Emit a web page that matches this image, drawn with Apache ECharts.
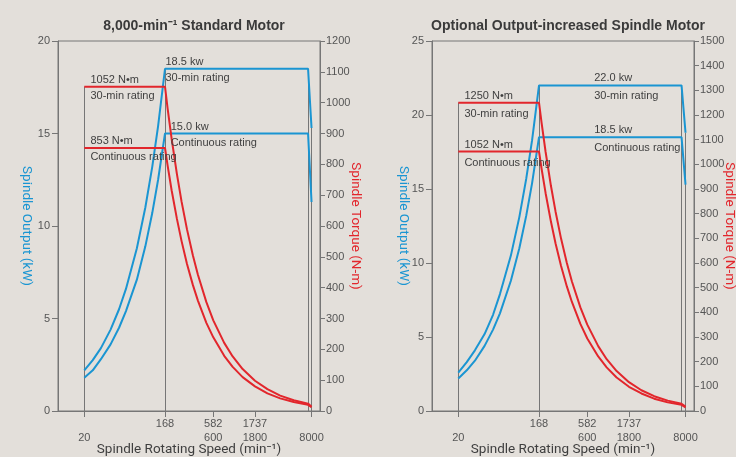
<!DOCTYPE html>
<html>
<head>
<meta charset="UTF-8">
<title></title>
</head>
<body style="margin:0;background:#e3dfda">
<div id="container" style="width:736px;height:457px"></div>
<script src="https://cdn.jsdelivr.net/npm/echarts@6/dist/echarts.min.js"></script>
<script>
// speed ticks (min-1) and their two-row labels
var speedTicks = [20, 168, 600, 1800, 8000];
var speedLabels = {20: '\n20', 168: '168\n', 600: '582\n600', 1800: '1737\n1800', 8000: '\n8000'};

// left chart: 8,000 min-1 standard motor  [speed, kW] / [speed, N-m]
var stdPower30 = [[20,2.2],[25,2.75],[31,3.4],[40,4.4],[50,5.5],[60,6.6],[80,8.8],[100,11.0],[120,13.2],[140,15.4],[168,18.5],[7300,18.5],[8000,15.3]];
var stdPowerCont = [[20,1.8],[25,2.2],[31,2.8],[40,3.6],[50,4.5],[60,5.4],[80,7.1],[100,8.9],[120,10.7],[140,12.5],[168,15.0],[7300,15.0],[8000,11.3]];
var stdTorque30 = [[20,1052],[168,1052],[180,981],[200,883],[230,768],[260,679],[300,589],[350,505],[400,442],[500,353],[600,294],[800,221],[1000,177],[1300,136],[1800,98],[2500,71],[3500,50],[5000,35],[7300,24],[8000,14]];
var stdTorqueCont = [[20,853],[168,853],[180,796],[200,716],[230,623],[260,551],[300,477],[350,409],[400,358],[500,286],[600,239],[800,179],[1000,143],[1300,110],[1800,80],[2500,57],[3500,41],[5000,29],[7300,20],[8000,12]];

// right chart: optional output-increased spindle motor
var optPower30 = [[20,2.6],[25,3.3],[31,4.1],[40,5.2],[50,6.5],[60,7.9],[80,10.5],[100,13.1],[120,15.7],[140,18.3],[168,22.0],[7200,22.0],[8000,18.8]];
var optPowerCont = [[20,2.2],[25,2.75],[31,3.4],[40,4.4],[50,5.5],[60,6.6],[80,8.8],[100,11.0],[120,13.2],[140,15.4],[168,18.5],[7200,18.5],[8000,15.3]];
var optTorque30 = [[20,1250],[168,1250],[180,1167],[200,1050],[230,913],[260,808],[300,700],[350,600],[400,525],[500,420],[600,350],[800,263],[1000,210],[1300,162],[1800,117],[2500,84],[3500,60],[5000,42],[7200,29],[8000,18]];
var optTorqueCont = [[20,1052],[168,1052],[180,981],[200,883],[230,768],[260,679],[300,589],[350,505],[400,442],[500,353],[600,294],[800,221],[1000,177],[1300,136],[1800,98],[2500,71],[3500,50],[5000,35],[7200,25],[8000,15]];

var BLUE = '#1a95d2', RED = '#e2262c', GRAY = '#767676', TXT = '#3f3f3f';
var narrow = '"Liberation Sans", Arial, sans-serif';
var sans = 'Roboto, "Noto Sans", sans-serif';

var dom = document.getElementById('container');
var myChart = echarts.init(dom);

function vline(x, y) {
    return [{coord: [x, y]}, {coord: [x, 0]}];
}

function note(x, y, text, lh) {
    return {
        coord: [x, y],
        label: {show: true, position: [0, -(lh / 2 + 7)], formatter: text, lineHeight: lh}
    };
}

var markPointBase = {
    symbol: 'circle', symbolSize: 0, silent: true,
    label: {color: TXT, fontFamily: narrow, fontSize: 11, align: 'left', verticalAlign: 'top'}
};

function plain(v) { return String(v); }

function panel(i, cfg) {
    var grid = {left: cfg.left, top: 41, width: 262, height: 370, show: true, outerBoundsMode: 'none',
        borderColor: GRAY, borderWidth: 1, backgroundColor: 'transparent'};
    var xAxis = {
        gridIndex: i, type: 'log', logBase: 10, min: 10, max: 10000,
        name: 'Spindle Rotating Speed (min⁻¹)', nameLocation: 'middle', nameGap: 32, nameMoveOverlap: false,
        nameTextStyle: {color: TXT, fontFamily: sans, fontSize: 13.5},
        axisLine: {lineStyle: {color: GRAY}},
        axisTick: {customValues: speedTicks, length: 6, lineStyle: {color: GRAY}},
        minorTick: {show: false},
        splitLine: {show: false},
        axisLabel: {
            customValues: speedTicks, margin: 6, color: '#555', fontFamily: narrow, fontSize: 11, lineHeight: 14,
            formatter: function (v) { return speedLabels[Math.round(v)] || ''; }
        }
    };
    var yPower = {
        gridIndex: i, type: 'value', min: 0, max: cfg.pMax, interval: 5, position: 'left',
        name: 'Spindle Output (kW)', nameLocation: 'middle', nameRotate: -90, nameGap: cfg.gapL, nameMoveOverlap: false,
        nameTextStyle: {color: BLUE, fontFamily: sans, fontSize: 13.5},
        axisLine: {show: true, lineStyle: {color: GRAY}},
        axisTick: {show: true, length: 6, lineStyle: {color: GRAY}},
        splitLine: {show: false},
        axisLabel: {margin: 8, color: '#555', fontFamily: narrow, fontSize: 11, formatter: plain,
            verticalAlign: 'middle', padding: [0, 0, 7, 0]}
    };
    var yTorque = {
        gridIndex: i, type: 'value', min: 0, max: cfg.tMax, interval: 100, position: 'right',
        name: 'Spindle Torque (N-m)', nameLocation: 'middle', nameRotate: -90, nameGap: 28, nameMoveOverlap: false,
        nameTextStyle: {color: RED, fontFamily: sans, fontSize: 13.5},
        axisLine: {show: true, lineStyle: {color: GRAY}},
        axisTick: {show: true, length: 5, lineStyle: {color: GRAY}},
        splitLine: {show: false},
        axisLabel: {margin: 6, color: '#555', fontFamily: narrow, fontSize: 11, formatter: plain,
            verticalAlign: 'middle', padding: [0, 0, 7, 0]}
    };
    var lineBase = {type: 'line', showSymbol: false, symbol: 'none', silent: true, z: 3};
    var series = [
        echarts.util.merge({
            xAxisIndex: i, yAxisIndex: 2 * i, data: cfg.p30,
            lineStyle: {color: BLUE, width: 2},
            markLine: {
                silent: true, symbol: 'none', label: {show: false}, z: 1,
                lineStyle: {color: GRAY, width: 1, type: 'solid'},
                data: [vline(168, cfg.p30[10][1]), vline(cfg.dropAt, cfg.p30[11][1]), vline(8000, cfg.p30[12][1])]
            },
            markPoint: echarts.util.merge({data: [
                note(cfg.n1.x, cfg.p30[10][1], cfg.n1.t, cfg.lh),
                note(cfg.n2.x, cfg.pc[10][1], cfg.n2.t, cfg.lh)
            ]}, markPointBase, true)
        }, lineBase, true),
        echarts.util.merge({
            xAxisIndex: i, yAxisIndex: 2 * i, data: cfg.pc,
            lineStyle: {color: BLUE, width: 2}
        }, lineBase, true),
        echarts.util.merge({
            xAxisIndex: i, yAxisIndex: 2 * i + 1, data: cfg.t30,
            lineStyle: {color: RED, width: 2},
            markLine: {
                silent: true, symbol: 'none', label: {show: false}, z: 1,
                lineStyle: {color: GRAY, width: 1, type: 'solid'},
                data: [vline(20, cfg.t30[0][1])]
            },
            markPoint: echarts.util.merge({data: [
                note(23.5, cfg.t30[0][1], cfg.n3.t, cfg.lh),
                note(23.5, cfg.tc[0][1], cfg.n4.t, cfg.lh)
            ]}, markPointBase, true)
        }, lineBase, true),
        echarts.util.merge({
            xAxisIndex: i, yAxisIndex: 2 * i + 1, data: cfg.tc,
            lineStyle: {color: RED, width: 2}
        }, lineBase, true)
    ];
    return {grid: grid, xAxis: xAxis, yAxis: [yPower, yTorque], series: series,
        title: {text: cfg.title, left: cfg.left + 131, top: 14, textAlign: 'center',
            textStyle: {color: '#3a3a3a', fontFamily: narrow, fontSize: 14, fontWeight: 'bold'}}};
}

var left = panel(0, {
    left: 58, pMax: 20, tMax: 1200, dropAt: 7300, lh: 16, gapL: 25,
    title: '8,000-min⁻¹ Standard Motor',
    p30: stdPower30, pc: stdPowerCont, t30: stdTorque30, tc: stdTorqueCont,
    n1: {x: 170, t: '18.5 kw\n30-min rating'},
    n2: {x: 195, t: '15.0 kw\nContinuous rating'},
    n3: {t: '1052 N•m\n30-min rating'},
    n4: {t: '853 N•m\nContinuous rating'}
});
var right = panel(1, {
    left: 432, pMax: 25, tMax: 1500, dropAt: 7200, lh: 18, gapL: 22,
    title: 'Optional Output-increased Spindle Motor',
    p30: optPower30, pc: optPowerCont, t30: optTorque30, tc: optTorqueCont,
    n1: {x: 720, t: '22.0 kw\n30-min rating'},
    n2: {x: 720, t: '18.5 kw\nContinuous rating'},
    n3: {t: '1250 N•m\n30-min rating'},
    n4: {t: '1052 N•m\nContinuous rating'}
});

var option = {
    backgroundColor: '#e3dfda',
    animation: false,
    title: [left.title, right.title],
    grid: [left.grid, right.grid],
    xAxis: [left.xAxis, right.xAxis],
    yAxis: left.yAxis.concat(right.yAxis),
    series: left.series.concat(right.series)
};
myChart.setOption(option);
</script>
</body>
</html>
